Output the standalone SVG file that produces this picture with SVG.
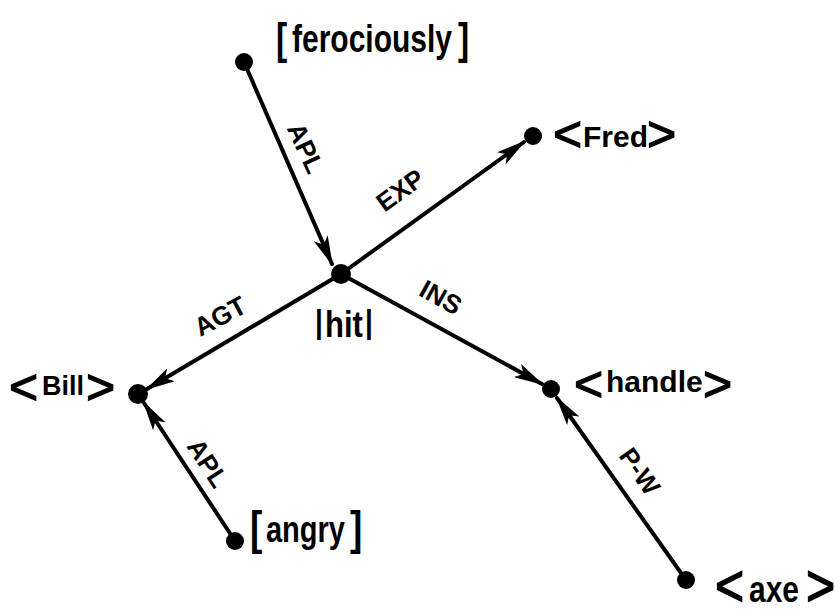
<svg xmlns="http://www.w3.org/2000/svg" width="835" height="609" viewBox="0 0 835 609">
<defs>
<marker id="ah" markerWidth="30" markerHeight="15" refX="28" refY="7.5" orient="auto" markerUnits="userSpaceOnUse">
<path d="M0,0 L30,7.5 L0,15 L7,7.5 Z" fill="#000"/>
</marker>
</defs>
<style>
.n{font-family:"Liberation Sans",Arial,sans-serif;font-weight:bold;fill:#000}
.e{font-family:"Liberation Sans",Arial,sans-serif;font-weight:bold;font-size:26px;fill:#000}
.ch{font-size:50px;font-weight:normal;stroke:#000;stroke-width:1.2}
.c{stroke:#000;stroke-width:4;fill:none;stroke-linecap:round}
.d{fill:#000}
</style>
<rect width="835" height="609" fill="#fff"/>
<g id="connectors">
<line class="c" x1="244" y1="62" x2="332" y2="264" marker-end="url(#ah)"/>
<line class="c" x1="341" y1="274" x2="524" y2="142" marker-end="url(#ah)"/>
<line class="c" x1="341" y1="274" x2="147" y2="389" marker-end="url(#ah)"/>
<line class="c" x1="341" y1="274" x2="542" y2="384" marker-end="url(#ah)"/>
<line class="c" x1="235" y1="541" x2="144" y2="403" marker-end="url(#ah)"/>
<line class="c" x1="686" y1="580" x2="557" y2="398" marker-end="url(#ah)"/>
<text class="e" transform="translate(306,148) rotate(65)" y="9.3" text-anchor="middle">APL</text>
<text class="e" transform="translate(400,190) rotate(-36)" y="9.3" text-anchor="middle">EXP</text>
<text class="e" transform="translate(441,297) rotate(29)" y="9.3" text-anchor="middle">INS</text>
<text class="e" transform="translate(220,316) rotate(-28)" y="9.3" text-anchor="middle">AGT</text>
<text class="e" transform="translate(208,463) rotate(57)" y="9.3" text-anchor="middle">APL</text>
<text class="e" transform="translate(640,471) rotate(55)" y="9.3" text-anchor="middle">P-W</text>
</g>
<g id="ferociously"><circle class="d" cx="244" cy="62" r="9"/><text class="n" transform="translate(0,52) scale(1,1.3)"><tspan x="276" y="1.5" font-size="33.5">[</tspan><tspan x="292" y="0" font-size="30">ferociously</tspan><tspan x="458" y="1.5" font-size="33.5">]</tspan></text></g>
<g id="fred"><circle class="d" cx="533" cy="136" r="9"/><text class="n"><tspan class="ch" x="553" y="151">&lt;</tspan><tspan x="583" y="147" font-size="30">Fred</tspan><tspan class="ch" x="647" y="151">&gt;</tspan></text></g>
<g id="hit"><circle class="d" cx="341" cy="274" r="10"/><text class="n" transform="translate(0,337) scale(1,1.2)"><tspan x="315" y="-3.3" font-size="28">|</tspan><tspan x="325" y="0" font-size="31">hit</tspan><tspan x="365" y="-3.3" font-size="28">|</tspan></text></g>
<g id="bill"><circle class="d" cx="138" cy="394" r="10"/><text class="n"><tspan class="ch" x="9" y="404">&lt;</tspan><tspan x="42" y="395" font-size="27">Bill</tspan><tspan class="ch" x="86" y="404">&gt;</tspan></text></g>
<g id="handle"><circle class="d" cx="551" cy="389" r="9"/><text class="n"><tspan class="ch" x="574" y="401">&lt;</tspan><tspan x="606" y="392" font-size="30">handle</tspan><tspan class="ch" x="703" y="401">&gt;</tspan></text></g>
<g id="angry"><circle class="d" cx="235" cy="541" r="9"/><text class="n" transform="translate(0,542) scale(1,1.27)"><tspan x="250" y="1.6" font-size="37">[</tspan><tspan x="266" y="0" font-size="29">angry</tspan><tspan x="350" y="1.6" font-size="37">]</tspan></text></g>
<g id="axe"><circle class="d" cx="686" cy="580" r="9"/><text class="n" transform="translate(0,602) scale(1,1.2)"><tspan class="ch" x="715" y="3" font-size="44">&lt;</tspan><tspan x="749" y="0" font-size="30">axe</tspan><tspan class="ch" x="806" y="3" font-size="44">&gt;</tspan></text></g>
</svg>
